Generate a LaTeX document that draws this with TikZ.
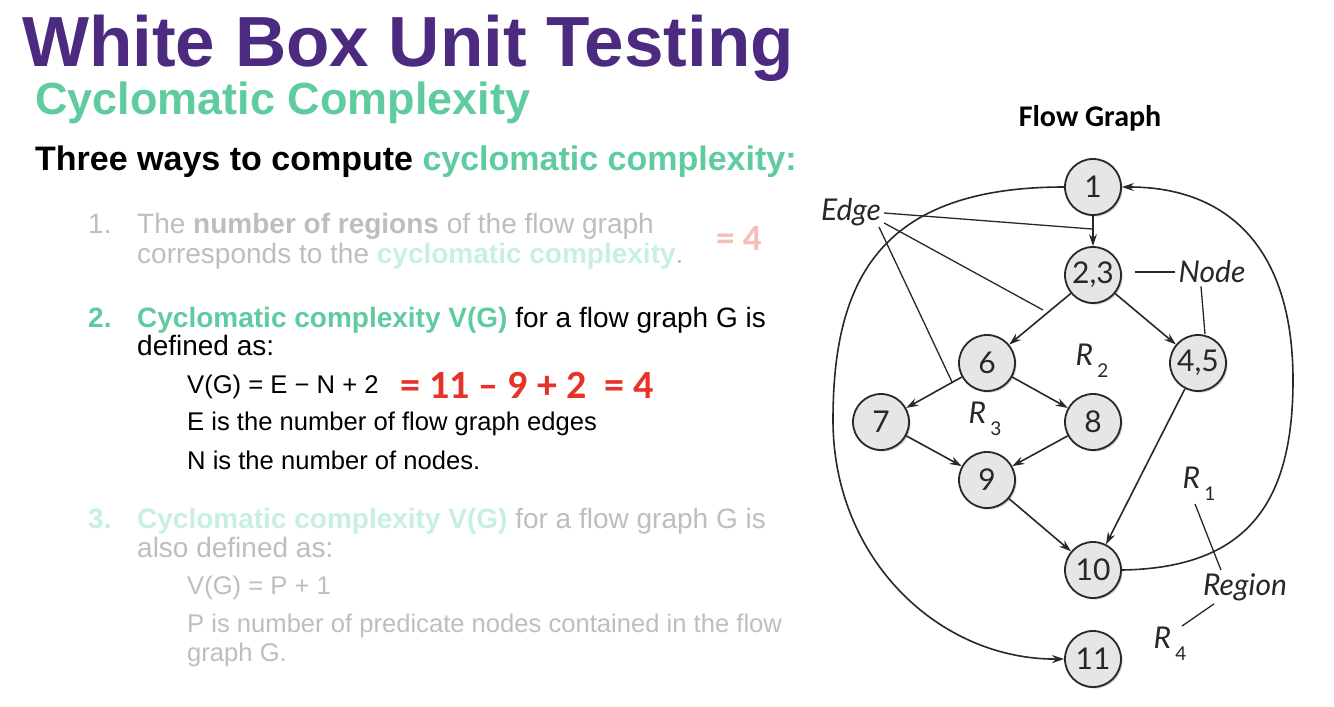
\documentclass[tikz,border=0pt]{standalone}
\usepackage{fontspec}
\setmainfont{Liberation Sans}
\newfontfamily\calibri{Carlito}
\newfontfamily\graphfont{Lato}
\usetikzlibrary{arrows.meta,shadows}

\definecolor{titlepurple}{RGB}{75,42,128}
\definecolor{ccgreen}{RGB}{94,204,158}
\definecolor{fadegray}{RGB}{190,190,190}
\definecolor{palegreen}{RGB}{200,240,225}
\definecolor{fadered}{RGB}{246,190,185}
\definecolor{calcred}{RGB}{232,50,40}
\definecolor{nodeline}{RGB}{40,40,40}
\definecolor{nodefill}{RGB}{230,230,230}

\newcommand{\fsize}[1]{\fontsize{#1}{#1}\selectfont}
\newcommand{\regionlabel}[1]{R\kern4pt\raisebox{-12pt}{\upshape\fsize{19}#1}}

\begin{document}
\begin{tikzpicture}[
  x=1pt, y=-1pt,
  heading/.style={anchor=base west, inner sep=0, font=\bfseries\fsize{71}, text=titlepurple},
  subheading/.style={anchor=base west, inner sep=0, font=\bfseries\fsize{45}, text=ccgreen},
  lead/.style={anchor=base west, inner sep=0, font=\bfseries\fsize{34}},
  body/.style={anchor=base west, inner sep=0, font=\fsize{28}},
  subline/.style={anchor=base west, inner sep=0, font=\fsize{25.6}},
  vertex/.style={circle, draw=nodeline, fill=nodefill, line width=1.8pt,
                 minimum size=56pt, inner sep=0, text=nodeline,
                 font=\graphfont\fsize{30},
                 drop shadow={shadow xshift=1.5pt, shadow yshift=-1.5pt, fill=black!45}},
  flow/.style={-{Stealth[length=12pt,width=8pt]}, line width=1.6pt, draw=nodeline},
  callout/.style={line width=1.3pt, draw=nodeline},
  tag/.style={font=\graphfont\itshape\fsize{30}, text=nodeline, inner sep=3pt}
]
\fill[white] (0,0) rectangle (1334,707);
\useasboundingbox (0,0) rectangle (1334,707);

% slide text
\node[heading] (title) at (22,66) {White Box Unit Testing};
\node[subheading] (subtitle) at (35,114) {Cyclomatic Complexity};
\node[lead] (intro) at (35,170) {Three ways to compute \textcolor{ccgreen}{cyclomatic complexity:}};

\node[body, text=fadegray] (num1) at (88,233) {1.};
\node[body, text=fadegray] (item1a) at (137,233) {The \textbf{number of regions} of the flow graph};
\node[body, text=fadegray] (item1b) at (137,263) {corresponds to the \textcolor{palegreen}{\textbf{cyclomatic complexity}}.};
\node[anchor=base west, inner sep=0, font=\calibri\bfseries\fsize{37}, text=fadered] (ans1) at (716,250) {= 4};

\node[body, font=\bfseries\fsize{28}, text=ccgreen] (num2) at (88,327) {2.};
\node[body] (item2a) at (137,327) {\textcolor{ccgreen}{\textbf{Cyclomatic complexity V(G)}} for a flow graph G is};
\node[body] (item2b) at (137,355) {defined as:};
\node[subline] (vgedges) at (187,393) {V(G) = E − N + 2};
\node[anchor=base west, inner sep=0, font=\calibri\bfseries\fsize{40}, text=calcred] (calc) at (400,398) {= 11 – 9 + 2 \ = 4};
\node[subline] (edef) at (187,430) {E is the number of flow graph edges};
\node[subline] (ndef) at (187,469) {N is the number of nodes.};

\node[body, font=\bfseries\fsize{28}, text=palegreen] (num3) at (88,528) {3.};
\node[body, text=fadegray] (item3a) at (137,528) {\textcolor{palegreen}{\textbf{Cyclomatic complexity V(G)}} for a flow graph G is};
\node[body, text=fadegray] (item3b) at (137,557) {also defined as:};
\node[subline, text=fadegray] (vgpred) at (187,594) {V(G) = P + 1};
\node[subline, text=fadegray] (pdef) at (187,632) {P is number of predicate nodes contained in the flow};
\node[subline, text=fadegray] (pdefb) at (187,661) {graph G.};

% flow graph
\node[font=\calibri\bfseries\fsize{30}] (fgtitle) at (1090,118) {Flow Graph};

\node[vertex] (n1)  at (1093,187) {1};
\node[vertex] (n23) at (1093,275) {2,3};
\node[vertex] (n6)  at (987,363)  {6};
\node[vertex] (n45) at (1198,363) {4,5};
\node[vertex] (n7)  at (881,422)  {7};
\node[vertex] (n8)  at (1093,422) {8};
\node[vertex] (n9)  at (987,480)  {9};
\node[vertex] (n10) at (1093,570) {10};
\node[vertex] (n11) at (1093,659) {11};

\draw[flow] (n1) -- (n23);
\draw[flow] (n23) -- (n6);
\draw[flow] (n23) -- (n45);
\draw[flow] (n6) -- (n7);
\draw[flow] (n6) -- (n8);
\draw[flow] (n7) -- (n9);
\draw[flow] (n8) -- (n9);
\draw[flow] (n9) -- (n10);
\draw[flow] (n45) -- (n10);
\draw[flow] (n1.west) .. controls (880,187) and (833,280) .. (833,420)
                      .. controls (833,560) and (940,660) .. (n11.west);
\draw[flow] (n10.east) .. controls (1250,568) and (1293,500) .. (1293,380)
                       .. controls (1293,245) and (1225,187) .. (n1.east);

% region labels
\node[tag] (r1) at (1199,484) {\regionlabel{1}};
\node[tag] (r2) at (1092,361) {\regionlabel{2}};
\node[tag] (r3) at (985,419)  {\regionlabel{3}};
\node[tag] (r4) at (1170,644) {\regionlabel{4}};

% callouts
\node[tag] (edge)   at (851,212)  {Edge};
\node[tag] (nodetag) at (1212,272) {Node};
\node[tag] (region) at (1245,587) {Region};

\coordinate (edgeA) at (1092,229);
\coordinate (edgeB) at (1043,310);
\coordinate (edgeC) at (952,382);
\draw[callout] ([yshift=-1pt]edge.east) -- (edgeA);
\draw[callout] ([yshift=-11pt]edge.east) -- (edgeB);
\draw[callout] ([xshift=28pt,yshift=-15pt]edge.center) -- (edgeC);
\draw[callout] (nodetag.west) -- ([xshift=13pt,yshift=3pt]n23.east);
\draw[callout] ([xshift=-11pt]nodetag.south) -- ([xshift=7pt]n45.north);
\draw[callout] ([xshift=-4pt]r1.south) -- ([xshift=-24pt]region.north);
\draw[callout] ([xshift=-31pt]region.south) -- ([xshift=12pt, yshift=-2pt]r4.north);
\end{tikzpicture}
\end{document}
